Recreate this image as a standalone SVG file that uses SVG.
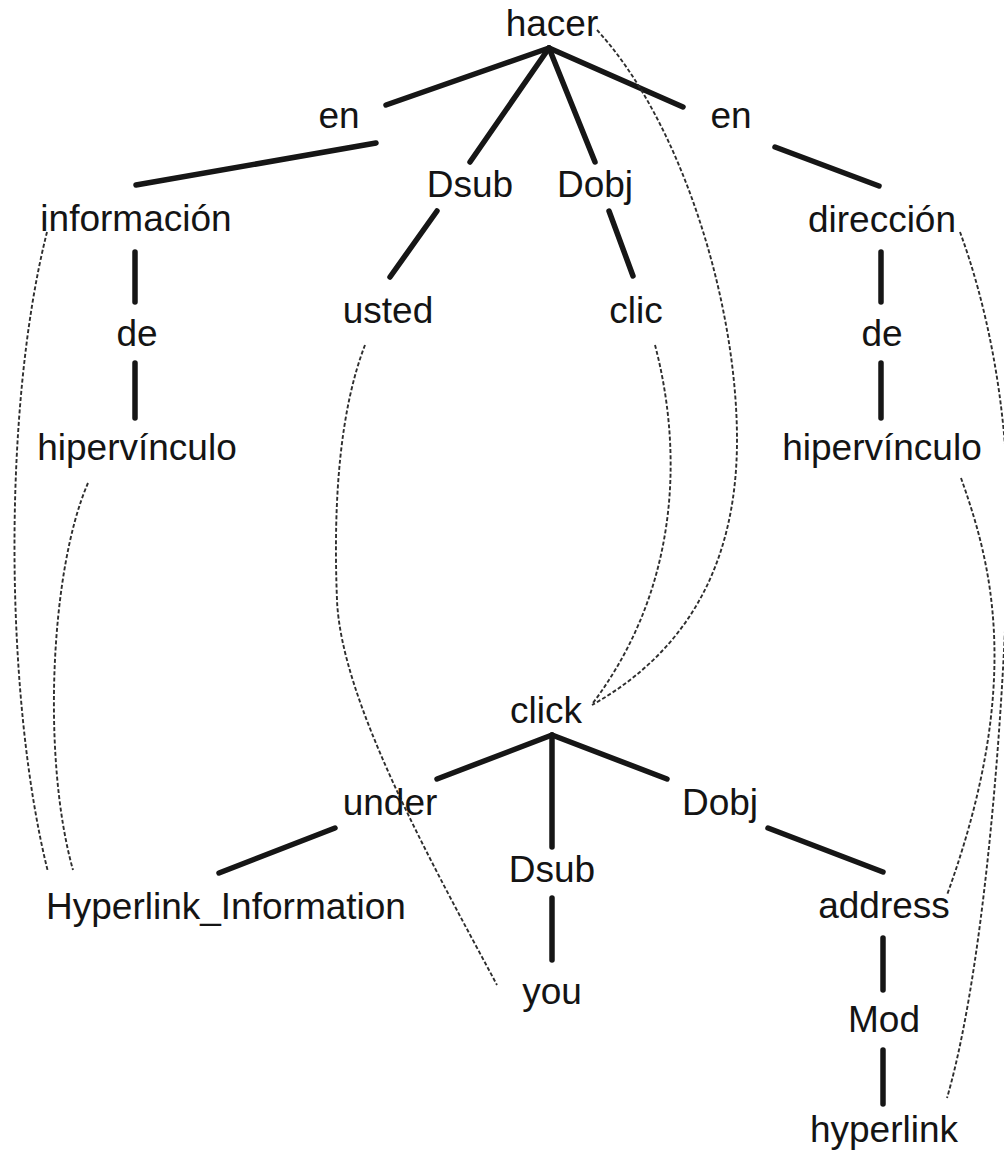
<svg xmlns="http://www.w3.org/2000/svg" width="1004" height="1157" viewBox="0 0 1004 1157">
  <style>
    .lbl { font-family: "Liberation Sans", Arial, sans-serif; font-size: 37px; fill: #141414; text-anchor: middle; }
    .edge { stroke: #161616; stroke-width: 5.5; stroke-linecap: round; fill: none; }
    .align { stroke: #2e2e2e; stroke-width: 1.9; stroke-dasharray: 4 2.2; fill: none; }
  </style>
  <rect width="1004" height="1157" fill="#ffffff"/>

  <!-- dependency edges and cross-tree alignment links -->
  <g id="connectors">
    <!-- Spanish tree -->
    <line class="edge" x1="549" y1="48" x2="386" y2="105"/>
    <line class="edge" x1="549" y1="48" x2="470" y2="162"/>
    <line class="edge" x1="549" y1="48" x2="595" y2="162"/>
    <line class="edge" x1="549" y1="48" x2="683" y2="107"/>
    <line class="edge" x1="376" y1="143" x2="136" y2="185"/>
    <line class="edge" x1="775" y1="147" x2="879" y2="186"/>
    <line class="edge" x1="437" y1="211" x2="390" y2="277"/>
    <line class="edge" x1="609" y1="211" x2="633" y2="276"/>
    <line class="edge" x1="135" y1="252" x2="135" y2="302"/>
    <line class="edge" x1="135" y1="363" x2="135" y2="418"/>
    <line class="edge" x1="881" y1="252" x2="881" y2="302"/>
    <line class="edge" x1="881" y1="363" x2="881" y2="418"/>
    <!-- English tree -->
    <line class="edge" x1="552" y1="735" x2="437" y2="779"/>
    <line class="edge" x1="552" y1="735" x2="552" y2="847"/>
    <line class="edge" x1="552" y1="735" x2="667" y2="779"/>
    <line class="edge" x1="335" y1="828" x2="219" y2="873"/>
    <line class="edge" x1="768" y1="828" x2="883" y2="872"/>
    <line class="edge" x1="552" y1="898" x2="552" y2="960"/>
    <line class="edge" x1="883" y1="938" x2="883" y2="990"/>
    <line class="edge" x1="883" y1="1050" x2="883" y2="1104"/>
    <!-- alignment links -->
    <path class="align" d="M597,30 C680,120 737,300 737,440 C737,560 690,650 592,705"/>
    <path class="align" d="M655,345 C680,440 685,580 593,703"/>
    <path class="align" d="M365,345 C340,410 333,500 337,600 S430,860 497,985"/>
    <path class="align" d="M47,232 C2,410 5,700 48,872"/>
    <path class="align" d="M88,483 C50,570 42,760 73,870"/>
    <path class="align" d="M960,232 C985,300 1008,400 1008,520 C1008,640 990,950 947,1098"/>
    <path class="align" d="M961,478 C990,560 1025,680 947,895"/>
  </g>

  <!-- Spanish nodes -->
  <g id="n-hacer"><text class="lbl" x="552" y="36">hacer</text></g>
  <g id="n-en1"><text class="lbl" x="339" y="128">en</text></g>
  <g id="n-dsub1"><text class="lbl" x="470" y="197">Dsub</text></g>
  <g id="n-dobj1"><text class="lbl" x="595" y="197">Dobj</text></g>
  <g id="n-en2"><text class="lbl" x="731" y="128">en</text></g>
  <g id="n-informacion"><text class="lbl" x="136" y="231">información</text></g>
  <g id="n-direccion"><text class="lbl" x="882" y="232">dirección</text></g>
  <g id="n-usted"><text class="lbl" x="388" y="323">usted</text></g>
  <g id="n-clic"><text class="lbl" x="636" y="323">clic</text></g>
  <g id="n-de1"><text class="lbl" x="137" y="346">de</text></g>
  <g id="n-de2"><text class="lbl" x="882" y="346">de</text></g>
  <g id="n-hipervinculo1"><text class="lbl" x="137" y="460">hipervínculo</text></g>
  <g id="n-hipervinculo2"><text class="lbl" x="882" y="460">hipervínculo</text></g>

  <!-- English nodes -->
  <g id="n-click"><text class="lbl" x="546" y="723">click</text></g>
  <g id="n-under"><text class="lbl" x="390" y="815">under</text></g>
  <g id="n-dobj2"><text class="lbl" x="720" y="815">Dobj</text></g>
  <g id="n-dsub2"><text class="lbl" x="552" y="882">Dsub</text></g>
  <g id="n-hyperlink-information"><text class="lbl" x="226" y="919">Hyperlink_Information</text></g>
  <g id="n-address"><text class="lbl" x="884" y="918">address</text></g>
  <g id="n-you"><text class="lbl" x="552" y="1004">you</text></g>
  <g id="n-mod"><text class="lbl" x="884" y="1032">Mod</text></g>
  <g id="n-hyperlink"><text class="lbl" x="884" y="1142">hyperlink</text></g>
</svg>
